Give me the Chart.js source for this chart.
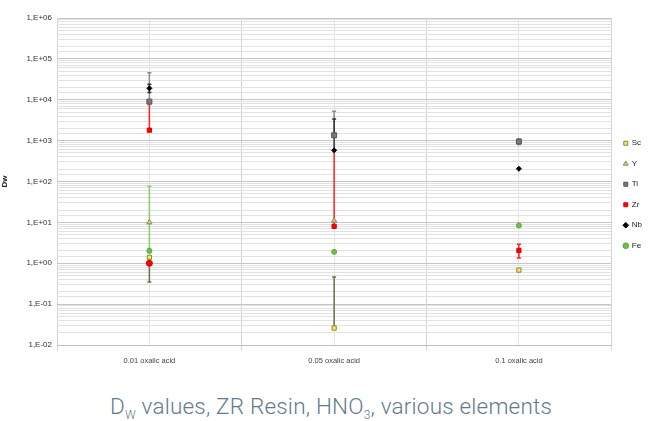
<!DOCTYPE html>
<html>
<head>
<meta charset="utf-8">
<script src="https://cdn.jsdelivr.net/npm/chart.js@4.4.0/dist/chart.umd.min.js"></script>
<style>
  body { margin: 0; background: #fff; width: 662px; height: 421px; overflow: hidden; }
  #wrap { position: absolute; left: 0; top: 0; width: 662px; height: 372px; }
  #title {
    position: absolute; left: 0; top: 393px; width: 662px; text-align: center;
    font-family: Roboto, "Liberation Sans", sans-serif; font-weight: 300;
    font-size: 22.5px; color: #5f7c8c; line-height: 26px; letter-spacing: 0.2px;
  }
  #title sub { font-size: 12px; vertical-align: -5px; line-height: 0; }
</style>
</head>
<body>
<div id="wrap"><canvas id="myChart" width="662" height="372"></canvas></div>
<div id="title">D<sub>W</sub> values, ZR Resin, HNO<sub>3</sub>, various elements</div>
<script>
// categories
const categories = ['0.01 oxalic acid', '0.05 oxalic acid', '0.1 oxalic acid'];

// Dw values (log axis)
const sc = [1.4, 0.026, 0.68];
const y  = [10, 11, null];
const ti = [9000, 1350, 950];
const zr = [1800, 8, 2.05];
const nb = [19000, 580, 205];
const fe = [2, 1.9, 8.4];
const zrLow = [1.0, null, null]; // extra red point under 0.01 oxalic acid

// error bar ranges [low, high]
const scErr = [[0.35, 1.4], [0.026, 0.46], null];
const yErr  = [[2.3, 76], null, null];
const tiErr = [[9000, 46000], [1350, 5200], [800, 1100]];
const zrErr = [[1800, 8000], [8, 590], [1.35, 2.9]];
const nbErr = [[15000, 24000], [580, 3400], null];

const yTicks = ['1,E-02', '1,E-01', '1,E+00', '1,E+01', '1,E+02', '1,E+03', '1,E+04', '1,E+05', '1,E+06'];

const smallFont = { family: '"Liberation Sans Narrow", "Liberation Sans", sans-serif', size: 8 };

// draws the error bars through the chart scales
const errorBars = {
    id: 'errorBars',
    beforeDatasetsDraw(chart) {
        const ctx = chart.ctx;
        const xs = chart.scales.x;
        const ys = chart.scales.y;
        chart.data.datasets.forEach(ds => {
            if (!ds.err) return;
            ds.err.forEach((r, i) => {
                if (!r) return;
                const px = xs.getPixelForValue(i);
                const y1 = ys.getPixelForValue(r[0]);
                const y2 = ys.getPixelForValue(r[1]);
                ctx.save();
                ctx.strokeStyle = ds.errColor;
                ctx.lineWidth = 1.5;
                ctx.beginPath();
                ctx.moveTo(px, y1);
                ctx.lineTo(px, y2);
                ctx.moveTo(px - 2, y1);
                ctx.lineTo(px + 2, y1);
                ctx.moveTo(px - 2, y2);
                ctx.lineTo(px + 2, y2);
                ctx.stroke();
                ctx.restore();
            });
        });
    }
};

function isMajor(v) {
    const l = Math.log10(v);
    return Math.abs(l - Math.round(l)) < 1e-9;
}

const ctx = document.getElementById('myChart').getContext('2d');
const myChart = new Chart(ctx, {
    type: 'line',
    data: {
        labels: categories,
        datasets: [
            { label: 'Sc', data: sc, err: scErr, errColor: '#6e6e45', pointStyle: 'rect', pointRadius: 3,
              backgroundColor: '#f3ea5f', borderColor: '#8c8a3c', borderWidth: 1 },
            { label: 'Y', data: y, err: yErr, errColor: '#8cc86c', pointStyle: 'triangle', pointRadius: 3,
              backgroundColor: '#d9cf8f', borderColor: '#8d8a45', borderWidth: 1 },
            { label: 'Ti', data: ti, err: tiErr, errColor: '#8a8a8a', pointStyle: 'rect', pointRadius: 3.5,
              backgroundColor: '#7a7a7a', borderColor: '#555555', borderWidth: 1 },
            { label: 'Zr', data: zr, err: zrErr, errColor: '#ff2020', pointStyle: 'rect', pointRadius: 3,
              backgroundColor: '#ff0000', borderColor: '#e00000', borderWidth: 1 },
            { label: 'Nb', data: nb, err: nbErr, errColor: '#333333', pointStyle: 'rectRot', pointRadius: 2.5,
              backgroundColor: '#000000', borderColor: '#000000', borderWidth: 1 },
            { label: 'Fe', data: fe, pointStyle: 'circle', pointRadius: 2.5,
              backgroundColor: '#6cbf4a', borderColor: '#5aa83c', borderWidth: 1 },
            { label: 'zrLow', data: zrLow, pointStyle: 'circle', pointRadius: 3,
              backgroundColor: '#ff0000', borderColor: '#d00000', borderWidth: 1 }
        ]
    },
    options: {
        responsive: false,
        animation: false,
        showLine: false,
        layout: { padding: { left: 0, right: 10, top: 18, bottom: 1 } },
        plugins: {
            title: { display: false },
            tooltip: { enabled: false },
            legend: {
                position: 'right',
                labels: {
                    filter: item => item.text !== 'zrLow',
                    usePointStyle: true,
                    boxWidth: 4,
                    boxHeight: 4,
                    padding: 12.5,
                    color: '#222',
                    font: smallFont
                }
            }
        },
        scales: {
            x: {
                offset: true,
                grid: { offset: true, color: '#d4d4d4', tickLength: 5 },
                border: { color: '#bfbfbf' },
                ticks: { color: '#444', font: { family: smallFont.family, size: 7.5 }, padding: 6, maxRotation: 0 }
            },
            x2: {
                type: 'category',
                labels: categories,
                offset: true,
                position: 'bottom',
                grid: { offset: false, color: '#e4e4e4', drawTicks: false },
                border: { display: false },
                ticks: { display: false },
                afterFit: s => { s.height = 0; }
            },
            y: {
                type: 'logarithmic',
                min: 0.01,
                max: 1e6,
                afterFit: s => { s.width = 57; },
                grid: {
                    color: c => isMajor(c.tick.value) ? '#c6c6c6' : '#e2e2e2',
                    drawTicks: false
                },
                border: { display: false },
                title: { display: true, text: 'Dw', color: '#222', font: { family: smallFont.family, size: 8, weight: 'bold' }, padding: { top: 0, bottom: 0 } },
                ticks: {
                    autoSkip: false,
                    padding: 5,
                    color: '#333',
                    font: smallFont,
                    callback: v => isMajor(v) ? yTicks[Math.round(Math.log10(v)) + 2] : ''
                }
            }
        }
    },
    plugins: [errorBars]
});
</script>
</body>
</html>
